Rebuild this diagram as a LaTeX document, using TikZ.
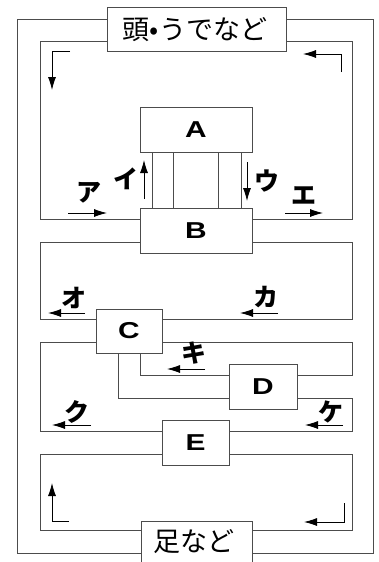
\documentclass[tikz,border=0pt]{standalone}
\usepackage{fontspec}
\setmainfont{Liberation Sans}
\newfontfamily\jp{Noto Sans CJK JP}
\usetikzlibrary{arrows.meta}
\newcommand{\wide}[1]{\scalebox{1.3}[1]{#1}}
\tikzset{
  ln/.style={draw=black!70, line width=0.8pt},
  box/.style={draw=black!70, line width=0.8pt, fill=white, rectangle, inner sep=0pt},
  arr/.style={draw=black, line width=0.8pt, -{Latex[length=13pt,width=8pt]}},
  lbl/.style={font=\bfseries\fontsize{23}{23}\selectfont},
  kata/.style={font=\jp\bfseries\fontsize{25}{25}\selectfont, inner sep=0pt},
  big/.style={font=\jp\fontsize{27}{27}\selectfont, inner sep=0pt}
}
\begin{document}
\begin{tikzpicture}[x=1pt,y=-1pt]
\useasboundingbox (0,0) rectangle (379,562);
\clip (0,0) rectangle (379,562);
% boxes
\node[box, minimum width=179pt, minimum height=44pt] (head) at (197,29) {};
\node[big] (headlbl) at (195,30) {頭•うでなど};
\node[box, minimum width=112pt, minimum height=45pt, lbl] (A) at (196,129.5) {\wide{A}};
\node[box, minimum width=112pt, minimum height=45pt, lbl] (B) at (196,230.5) {\wide{B}};
\node[box, minimum width=66pt, minimum height=44pt, lbl] (C) at (129,331) {\wide{C}};
\node[box, minimum width=68pt, minimum height=45pt, lbl] (D) at (263,386.5) {\wide{D}};
\node[box, minimum width=67pt, minimum height=45pt, lbl] (E) at (195.5,442.5) {\wide{E}};
\node[box, minimum width=111pt, minimum height=56pt, anchor=north] (foot) at (196.5,521) {};
\node[big] (footlbl) at (194,541.5) {足など};
% outer loop
\draw[ln] (head.west|-0,19) -| (17,553) -- (foot.west|-0,553);
\draw[ln] (head.east|-0,19) -| (373,553) -- (foot.east|-0,553);
% loop 1
\draw[ln] (head.west|-0,41) -| (40,219) -- (B.west|-0,219);
\draw[ln] (head.east|-0,41) -| (352,219) -- (B.east|-0,219);
% columns
\foreach \xx in {152,173,218,241} \draw[ln] (A.south-|\xx,0) -- (B.north-|\xx,0);
% loop 2
\draw[ln] (B.west|-0,242) -| (40,319) -- (C.west|-0,319);
\draw[ln] (B.east|-0,242) -| (352,319) -- (C.east|-0,319);
% loop 3
\draw[ln] (C.west|-0,342) -| (40,431) -- (E.west|-0,431);
\draw[ln] (C.east|-0,342) -| (352,375) -- (D.east|-0,375);
\draw[ln] (C.south-|140,0) |- (D.west|-0,375);
\draw[ln] (C.south-|118,0) |- (D.west|-0,398);
\draw[ln] (D.east|-0,398) -| (352,431) -- (E.east|-0,431);
% loop 4
\draw[ln] (E.west|-0,454) -| (40,530) -- (foot.west|-0,530);
\draw[ln] (E.east|-0,454) -| (352,530) -- (foot.east|-0,530);
% arrows
\draw[arr] (70,51) -| (52,90);
\draw[arr] (341,72) |- (303,54);
\draw[arr] (144,199) -- (144,160);
\draw[arr] (247,162) -- (247,201);
\draw[arr] (68,213) -- (107,213);
\draw[arr] (285,213) -- (323,213);
\draw[arr] (85,313) -- (48,313);
\draw[arr] (278,313) -- (240,313);
\draw[arr] (205,369) -- (167,369);
\draw[arr] (91,425) -- (52,425);
\draw[arr] (343,425) -- (305,425);
\draw[arr] (69,521) -| (52,483);
\draw[arr] (344,503) |- (304,522);
% labels
\node[kata] (la) at (89,193) {ア};
\node[kata] (li) at (126,179) {イ};
\node[kata] (lu) at (267,181) {ウ};
\node[kata] (le) at (304,196) {エ};
\node[kata] (lo) at (74,298) {オ};
\node[kata] (lk) at (266,297) {カ};
\node[kata] (lki) at (194,353) {キ};
\node[kata] (lku) at (77,412) {ク};
\node[kata] (lke) at (331,412) {ケ};
\end{tikzpicture}
\end{document}
